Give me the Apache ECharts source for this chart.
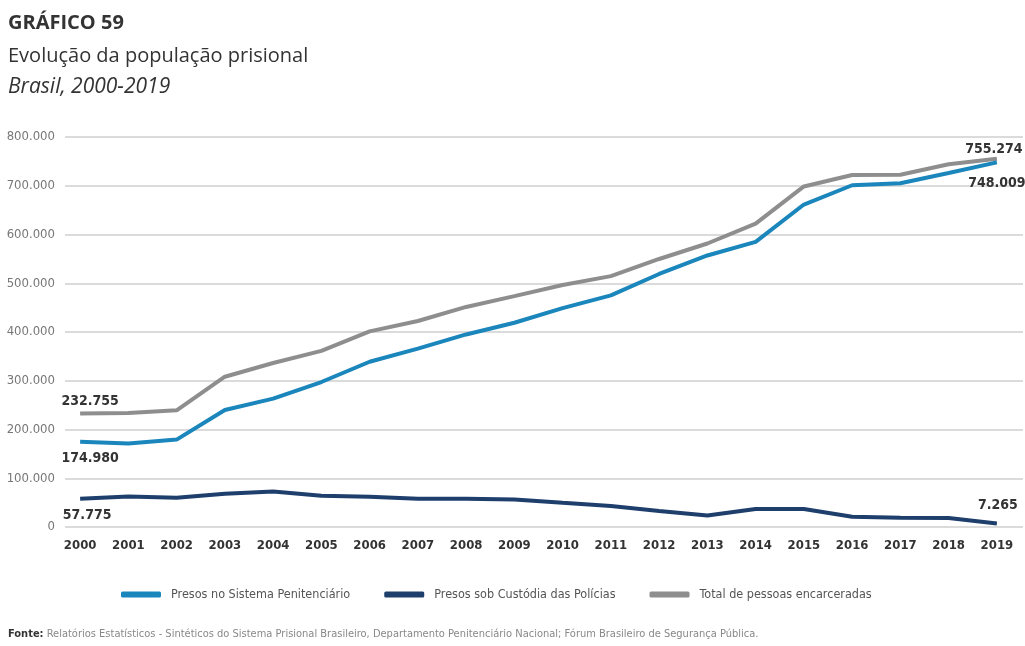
<!DOCTYPE html>
<html>
<head>
<meta charset="utf-8">
<script src="https://cdn.jsdelivr.net/npm/echarts@6/dist/echarts.min.js"></script>
<style>
  html, body { margin: 0; padding: 0; background: #fff; }
  #chart { width: 1025px; height: 646px; }
</style>
</head>
<body>
<div id="chart"></div>
<script>
// anos e séries
var anos = ['2000', '2001', '2002', '2003', '2004', '2005', '2006', '2007', '2008', '2009',
            '2010', '2011', '2012', '2013', '2014', '2015', '2016', '2017', '2018', '2019'];
var penitenciario = [174980, 171400, 179300, 240000, 263400, 297400, 339000, 366000, 395000, 419000,
                     449000, 475000, 519000, 557000, 585000, 661500, 701000, 705000, 726000, 748009];
var custodia = [57775, 62500, 60000, 68400, 73000, 64000, 62000, 58000, 57700, 56500,
                49600, 43000, 33000, 23500, 37000, 37000, 21000, 19000, 18500, 7265];
var total = [232755, 233900, 239300, 308300, 336400, 361400, 401200, 422600, 451400, 473600,
             496300, 514600, 549800, 581500, 622200, 698600, 722100, 722700, 744200, 755274];
var yTicks = [0, 100000, 200000, 300000, 400000, 500000, 600000, 700000, 800000];

var fonteNarrow = '"DejaVu Sans Condensed", "Liberation Sans Narrow", sans-serif';

function fmt(v) {
    return String(v).replace(/\B(?=(\d{3})+(?!\d))/g, '.');
}

// rótulo só no primeiro e no último ponto
function comRotulos(valores, posIni, posFim, offIni, offFim) {
    return valores.map(function (v, i) {
        var ponta = (i === 0 || i === valores.length - 1);
        return {
            value: v,
            label: {
                show: ponta,
                position: i === 0 ? posIni : posFim,
                offset: i === 0 ? offIni : offFim,
                formatter: function (p) { return fmt(p.value); },
                fontFamily: fonteNarrow,
                fontWeight: 'bold',
                fontSize: 14,
                color: '#333'
            }
        };
    });
}

var chart = echarts.init(document.getElementById('chart'));

var option = {
    backgroundColor: '#fff',
    animation: false,
    title: [
        { text: 'GRÁFICO 59', left: 3, top: 8,
          textStyle: { fontFamily: 'Open Sans', fontWeight: 'bold', fontSize: 20, color: '#333' } },
        { text: 'Evolução da população prisional', left: 3, top: 41,
          textStyle: { fontFamily: 'Open Sans', fontWeight: 'normal', fontSize: 20, color: '#333' } },
        { text: 'Brasil, 2000-2019', left: 3, top: 72,
          textStyle: { fontFamily: 'Open Sans', fontStyle: 'italic', fontWeight: 'normal', fontSize: 21, color: '#333' } },
        { text: '{b|Fonte:} Relatórios Estatísticos - Sintéticos do Sistema Prisional Brasileiro, Departamento Penitenciário Nacional; Fórum Brasileiro de Segurança Pública.',
          left: 3, top: 624,
          textStyle: {
              fontFamily: fonteNarrow, fontWeight: 'normal', fontSize: 11, color: '#888',
              rich: { b: { fontFamily: fonteNarrow, fontWeight: 'bold', fontSize: 11, color: '#333' } }
          } }
    ],
    legend: {
        top: 583,
        left: 116,
        icon: 'roundRect',
        itemWidth: 40,
        itemHeight: 6,
        itemGap: 34,
        textStyle: { fontFamily: fonteNarrow, fontSize: 12.5, color: '#555', padding: [0, 0, 0, 5] },
        data: ['Presos no Sistema Penitenciário', 'Presos sob Custódia das Polícias', 'Total de pessoas encarceradas']
    },
    grid: [
        { left: 56, right: 4, top: 137, bottom: 119 },
        { left: 65, right: 2, top: 137, bottom: 119 }
    ],
    xAxis: [
        {
            type: 'category', gridIndex: 0, data: anos, boundaryGap: true,
            axisLine: { show: false }, axisTick: { show: false },
            axisLabel: { margin: 12, fontFamily: fonteNarrow, fontWeight: 'bold', fontSize: 13, color: '#333' }
        },
        { type: 'category', gridIndex: 1, data: anos, show: false }
    ],
    yAxis: [
        {
            type: 'value', gridIndex: 0, min: 0, max: 800000, interval: 100000,
            axisLine: { show: false }, axisTick: { show: false },
            axisLabel: { show: false }, splitLine: { show: false }
        },
        {
            type: 'value', gridIndex: 1, min: yTicks[0], max: yTicks[yTicks.length - 1], interval: 100000,
            axisLine: { show: false }, axisTick: { show: false },
            axisLabel: {
                margin: 10, fontFamily: fonteNarrow, fontSize: 13, color: '#777',
                formatter: function (v) { return fmt(v); }
            },
            splitLine: { lineStyle: { color: '#cfcfcf', width: 1.5 } }
        }
    ],
    series: [
        {
            name: 'Presos no Sistema Penitenciário', type: 'line',
            xAxisIndex: 0, yAxisIndex: 0, showSymbol: true, symbol: 'circle', symbolSize: 0, z: 4,
            color: '#1a86bb',
            lineStyle: { width: 4, color: '#1a86bb' },
            data: comRotulos(penitenciario, 'bottom', 'bottom', [10, 5], [0, 9])
        },
        {
            name: 'Presos sob Custódia das Polícias', type: 'line',
            xAxisIndex: 0, yAxisIndex: 0, showSymbol: true, symbol: 'circle', symbolSize: 0, z: 3,
            color: '#1e3e6c',
            lineStyle: { width: 4, color: '#1e3e6c' },
            data: comRotulos(custodia, 'bottom', 'top', [7, 5], [1, -6])
        },
        {
            name: 'Total de pessoas encarceradas', type: 'line',
            xAxisIndex: 0, yAxisIndex: 0, showSymbol: true, symbol: 'circle', symbolSize: 0, z: 2,
            color: '#8e8e8e',
            lineStyle: { width: 4, color: '#8e8e8e' },
            data: comRotulos(total, 'top', 'top', [10, 0], [-3, 3])
        }
    ]
};

chart.setOption(option);
</script>
</body>
</html>
